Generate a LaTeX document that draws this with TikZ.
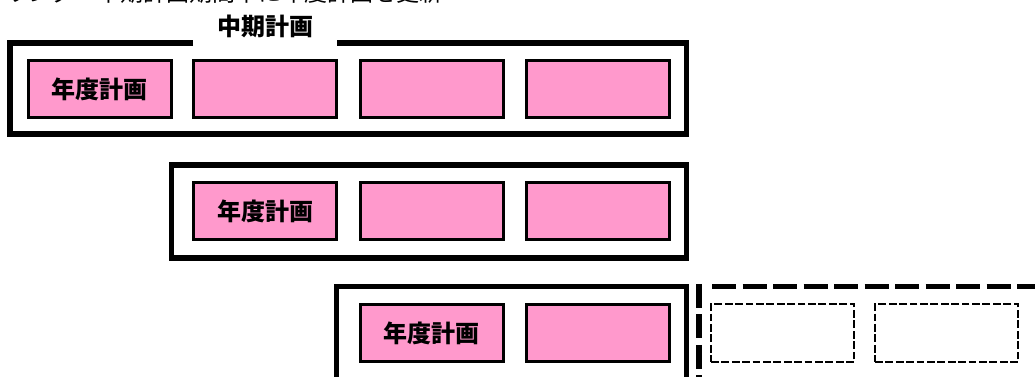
\documentclass[tikz,border=0pt]{standalone}
\usepackage{fontspec}
\newfontfamily\jp{Noto Sans CJK JP}
\definecolor{planpink}{HTML}{FF99CC}
\begin{document}
\begin{tikzpicture}[x=0.75pt,y=-0.75pt,
  bigframe/.style={line width=4.125pt},
  bigdash/.style={line width=4.125pt, dash pattern=on 18pt off 4.875pt},
  planbox/.style={draw=black, line width=2.25pt, fill=planpink,
    minimum width=107.25pt, minimum height=42.75pt, inner sep=0pt,
    font=\jp\bfseries\fontsize{18pt}{18pt}\selectfont},
  ghostbox/.style={draw=black, line width=2.1pt,
    dash pattern=on 5.8pt off 2pt,
    minimum width=107.25pt, minimum height=43.5pt, inner sep=0pt},
  headingtext/.style={font=\jp\fontsize{17.25pt}{17.25pt}\selectfont, inner sep=0pt},
  labeltext/.style={font=\jp\bfseries\fontsize{18pt}{18pt}\selectfont, inner sep=0pt}]
\clip (0,0) rectangle (1035,377);
% clipped heading at top
\node[headingtext, anchor=base east] (heading) at (443,2) {ローリング：中期計画期間中に年度計画を更新};
% frame 1 with title gap
\node[labeltext] (midterm) at (265,26) {中期計画};
\draw[bigframe] (193,43) -- (10,43) -- (10,134) -- (686.5,134) -- (686.5,43) -- (337,43);
% frame 2
\draw[bigframe] (171.5,165) rectangle (686.5,258);
% frame 3 (open at bottom)
\draw[bigframe] (336.5,380) -- (336.5,286.5) -- (686.5,286.5) -- (686.5,380);
% dashed future frame
\draw[bigdash] (699,284) -- (699,380);
\draw[bigdash] (712,286.5) -- (1040,286.5);
% row 1
\node[planbox] (y1a) at (99.5,89.5) {年度計画};
\node[planbox] (y1b) at (265,89.5) {};
\node[planbox] (y1c) at (431.5,89.5) {};
\node[planbox] (y1d) at (597.5,89.5) {};
% row 2
\node[planbox] (y2a) at (265,211.5) {年度計画};
\node[planbox] (y2b) at (431.5,211.5) {};
\node[planbox] (y2c) at (597.5,211.5) {};
% row 3
\node[planbox] (y3a) at (431.5,333.5) {年度計画};
\node[planbox] (y3b) at (597.5,333.5) {};
\node[ghostbox] (g1) at (782.5,333) {};
\node[ghostbox] (g2) at (946.5,333) {};
\end{tikzpicture}
\end{document}
